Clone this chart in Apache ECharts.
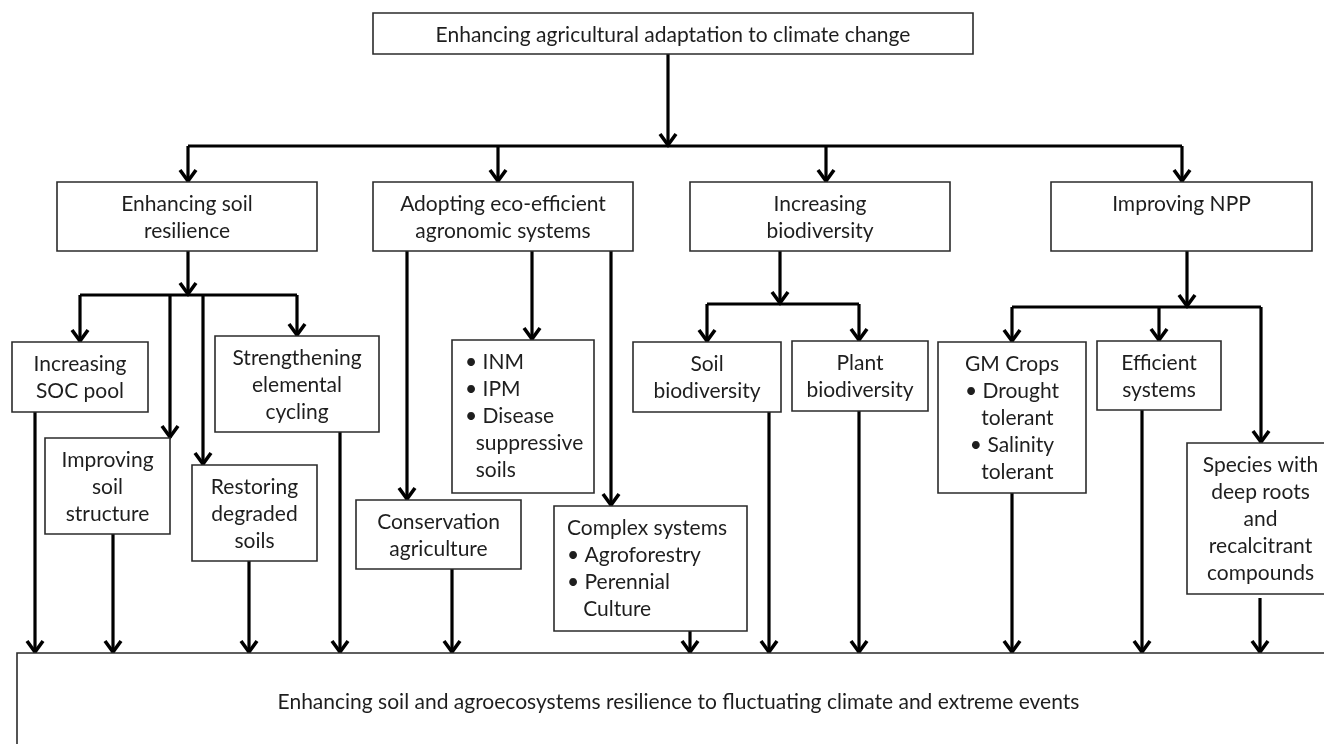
<!DOCTYPE html>
<html>
<head>
<meta charset="utf-8">
<script src="https://cdn.jsdelivr.net/npm/echarts@6/dist/echarts.min.js"></script>
<style>
    html, body { margin: 0; padding: 0; background: #ffffff; }
    #chart { width: 1324px; height: 744px; }
</style>
</head>
<body>
<div id="chart"></div>
<script>
// Box texts, top to bottom / left to right
var boxLabels = [
    'Enhancing agricultural adaptation to climate change',
    'Enhancing soil\nresilience',
    'Adopting eco-efficient\nagronomic systems',
    'Increasing\nbiodiversity',
    'Improving NPP',
    'Increasing\nSOC pool',
    'Strengthening\nelemental\ncycling',
    'Improving\nsoil\nstructure',
    'Restoring\ndegraded\nsoils',
    '\u2022 INM\n\u2022 IPM\n\u2022 Disease\n  suppressive\n  soils',
    'Conservation\nagriculture',
    'Complex systems\n\u2022 Agroforestry\n\u2022 Perennial\n   Culture',
    'Soil\nbiodiversity',
    'Plant\nbiodiversity',
    'GM Crops\n\u2022 Drought\n  tolerant\n\u2022 Salinity\n  tolerant',
    'Efficient\nsystems',
    'Species with\ndeep roots\nand\nrecalcitrant\ncompounds',
    'Enhancing soil and agroecosystems resilience to fluctuating climate and extreme events'
]

// Box corners [x0, y0, x1, y1] in diagram units
var boxRects = [
    [373, 13, 973, 54],
    [57, 182, 317, 251],
    [373, 182, 633, 251],
    [690, 182, 950, 251],
    [1051, 182, 1312, 251],
    [12, 342, 148, 412],
    [215, 336, 379, 432],
    [45, 438, 170, 534],
    [192, 465, 317, 561],
    [452, 340, 594, 493],
    [356, 500, 521, 569],
    [554, 506, 747, 631],
    [633, 342, 781, 412],
    [792, 341, 928, 411],
    [938, 342, 1086, 493],
    [1097, 341, 1221, 410],
    [1187, 443, 1334, 594],
    [17, 653, 1340, 751]
]

// which boxes have left aligned bullet lists
var leftAligned = [9, 11]
// the outcome box has its text in the middle
var middleAnchored = [17]

// horizontal bus lines (no arrow head)
var busLines = [
    [[188, 146], [1182, 146]],
    [[80, 295], [297, 295]],
    [[707, 304], [859, 304]],
    [[1012, 307], [1261, 307]]
]

// arrows, head at the last point
var arrowPaths = [
    [[668, 54], [668, 146]],
    [[188, 146], [188, 182]],
    [[498, 146], [498, 182]],
    [[826, 146], [826, 182]],
    [[1182, 146], [1182, 182]],
    [[188, 251], [188, 295]],
    [[80, 295], [80, 342]],
    [[170, 295], [170, 438]],
    [[203, 295], [203, 465]],
    [[297, 295], [297, 336]],
    [[35, 412], [35, 653]],
    [[113, 534], [113, 653]],
    [[249, 561], [249, 653]],
    [[340, 432], [340, 653]],
    [[407, 251], [407, 500]],
    [[532, 251], [532, 340]],
    [[611, 251], [611, 506]],
    [[452, 569], [452, 653]],
    [[690, 631], [690, 653]],
    [[780, 251], [780, 304]],
    [[707, 304], [707, 342]],
    [[859, 304], [859, 341]],
    [[769, 412], [769, 653]],
    [[859, 411], [859, 653]],
    [[1187, 251], [1187, 307]],
    [[1012, 307], [1012, 342]],
    [[1159, 307], [1159, 341]],
    [[1261, 307], [1261, 443]],
    [[1012, 493], [1012, 653]],
    [[1142, 410], [1142, 653]],
    [[1260, 598], [1260, 653]]
]

var FONT = '21px Lato, "Open Sans", sans-serif'
var LINE_H = 27

function renderBox(params, api) {
    var i = api.value(4)
    var p0 = api.coord([api.value(0), api.value(1)])
    var p1 = api.coord([api.value(2), api.value(3)])
    var left = leftAligned.indexOf(i) >= 0
    var middle = middleAnchored.indexOf(i) >= 0
    return {
        type: 'group',
        children: [
            {
                type: 'rect',
                shape: { x: p0[0], y: p0[1], width: p1[0] - p0[0], height: p1[1] - p0[1] },
                style: { fill: '#ffffff', stroke: '#2b2b2b', lineWidth: 1.6 }
            },
            {
                type: 'text',
                style: {
                    text: boxLabels[i],
                    x: left ? p0[0] + 13 : (p0[0] + p1[0]) / 2,
                    y: middle ? (p0[1] + p1[1]) / 2 : p0[1] + 9,
                    textAlign: left ? 'left' : 'center',
                    textVerticalAlign: middle ? 'middle' : 'top',
                    font: FONT,
                    lineHeight: LINE_H,
                    fill: '#1e1e1e'
                }
            }
        ]
    }
}

function renderPath(list, withHead) {
    return function (params, api) {
        var path = list[api.value(2)]
        var pts = path.map(function (pt) { return api.coord(pt) })
        var children = [{
            type: 'polyline',
            shape: { points: pts },
            style: { stroke: '#000000', lineWidth: 3.2, fill: null }
        }]
        if (withHead) {
            // open chevron head pointing down
            var tip = pts[pts.length - 1]
            children.push({
                type: 'polyline',
                shape: { points: [[tip[0] - 8, tip[1] - 12], [tip[0], tip[1] - 1], [tip[0] + 8, tip[1] - 12]] },
                style: { stroke: '#000000', lineWidth: 3.6, fill: null, lineJoin: 'miter' }
            })
        }
        return { type: 'group', children: children }
    }
}

var option = {
    animation: false,
    grid: { left: 0, right: 0, top: 0, bottom: 0 },
    xAxis: { type: 'value', min: 0, max: 1324, show: false },
    yAxis: { type: 'value', min: 0, max: 744, inverse: true, show: false },
    series: [
        {
            type: 'custom',
            name: 'bus',
            renderItem: renderPath(busLines, false),
            encode: { x: 0, y: 1 },
            clip: false,
            data: busLines.map(function (p, i) { return [p[0][0], p[0][1], i] })
        },
        {
            type: 'custom',
            name: 'arrows',
            renderItem: renderPath(arrowPaths, true),
            encode: { x: 0, y: 1 },
            clip: false,
            data: arrowPaths.map(function (p, i) { return [p[0][0], p[0][1], i] })
        },
        {
            type: 'custom',
            name: 'boxes',
            renderItem: renderBox,
            encode: { x: [0, 2], y: [1, 3] },
            clip: true,
            z: 3,
            data: boxRects.map(function (r, i) { return [r[0], r[1], r[2], r[3], i] })
        }
    ]
}

var chart = echarts.init(document.getElementById('chart'))
chart.setOption(option)
</script>
</body>
</html>
